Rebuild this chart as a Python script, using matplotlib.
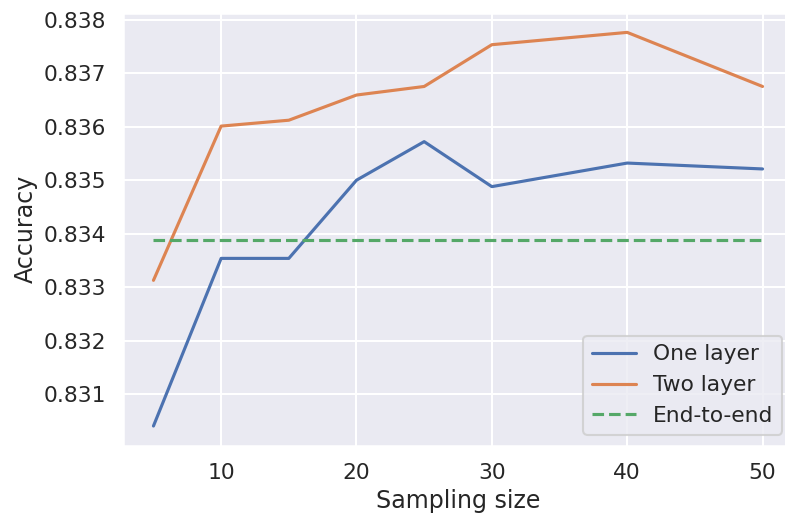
import matplotlib
matplotlib.use("Agg")
import matplotlib.pyplot as plt
import seaborn as sns

# Data
sampling = [5, 10, 15, 20, 25, 30, 40, 50]
one_layer = [0.83041, 0.83354, 0.83354, 0.83500, 0.83572, 0.83488, 0.83532, 0.83521]
two_layer = [0.83313, 0.83601, 0.83612, 0.83659, 0.83675, 0.83753, 0.83776, 0.83675]
end_to_end = 0.83388

sns.set_theme(style="darkgrid", context="talk", font_scale=0.95)

fig = plt.figure(figsize=(7.85, 5.18), dpi=100)
ax = fig.add_axes([123 / 785, 1 - 445.7 / 518, (793 - 123) / 785, (445.7 - 12.7) / 518])

ax.plot(sampling, one_layer, label="One layer")
ax.plot(sampling, two_layer, label="Two layer")
ax.plot(sampling, [end_to_end] * len(sampling), linestyle="--", label="End-to-end")

ax.set_xlabel("Sampling size")
ax.set_ylabel("Accuracy")
ax.legend(loc="lower right")

fig.savefig("out.png", dpi=100)
